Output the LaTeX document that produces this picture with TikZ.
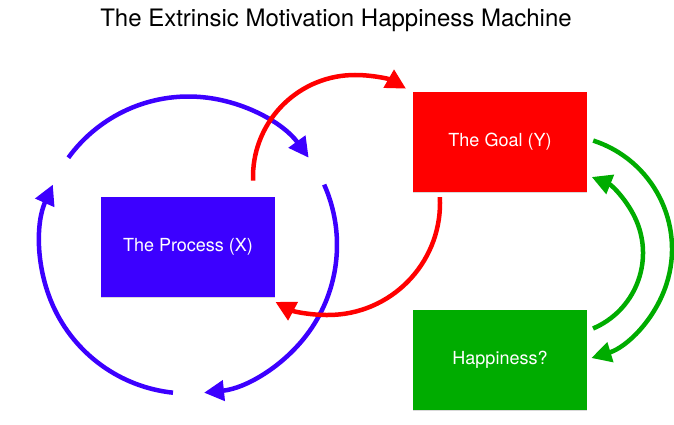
\documentclass[tikz,border=0pt]{standalone}
\usepackage{fontspec}
\setmainfont{TeX Gyre Heros}
\usetikzlibrary{arrows.meta,shadows}
\definecolor{procblue}{RGB}{60,0,255}
\definecolor{goalred}{RGB}{255,0,0}
\definecolor{happygreen}{RGB}{0,172,0}

\begin{document}
\begin{tikzpicture}[x=1pt,y=1pt,
  box/.style={minimum width=174pt,minimum height=100pt,inner sep=0pt,text=white,
    font=\fontsize{18}{21}\selectfont,
    drop shadow={shadow xshift=0pt,shadow yshift=-1.2pt,opacity=0.3}},
  cyclearrow/.style={line width=4.5pt,-{Triangle[length=20pt,width=20pt]}}]
  \useasboundingbox (0,0) rectangle (674,424);

  \node[anchor=base,font=\fontsize{24}{27}\selectfont] (title) at (336,397)
    {The Extrinsic Motivation Happiness Machine};

  %% boxes
  \node[box,fill=procblue] (process) at (188,177) {The Process (X)};
  \node[box,fill=goalred] (goal) at (500,282) {The Goal (Y)};
  \node[box,fill=happygreen] (happy) at (500,64) {Happiness?};

  %% the process loop
  \coordinate (xloop) at (188.5,179);
  \foreach \a in {144,24,-96}
    \draw[cyclearrow,procblue] ([shift={(\a:148.5)}]xloop)
      arc[start angle=\a,end angle=\a-108,radius=148.5];

  %% process <-> goal
  \coordinate (upper) at (355,247);
  \draw[cyclearrow,goalred] ([shift={(182:102)}]upper)
    arc[start angle=182,end angle=60,radius=102]; % X->Y
  \coordinate (lower) at (328,221);
  \draw[cyclearrow,goalred] ([shift={(3:112)}]lower)
    arc[start angle=3,end angle=-118,radius=112]; % Y->X

  %% goal <-> happiness
  \coordinate (outer) at (558,175);
  \draw[cyclearrow,happygreen] ([shift={(72:114)}]outer)
    arc[start angle=72,end angle=-73,radius=114]; % Y->H
  \coordinate (inner) at (561,171);
  \draw[cyclearrow,happygreen] ([shift={(-67:82)}]inner)
    arc[start angle=-67,end angle=68,radius=82]; % H->Y

\end{tikzpicture}
\end{document}
